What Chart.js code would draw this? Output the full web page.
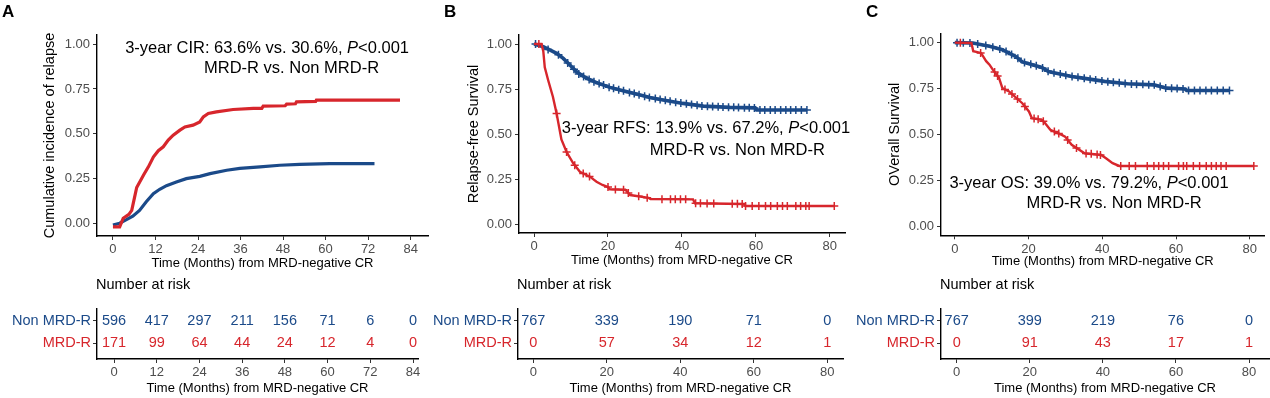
<!DOCTYPE html>
<html><head><meta charset="utf-8">
<script src="https://cdn.jsdelivr.net/npm/chart.js@4.4.1/dist/chart.umd.min.js"></script>
<style>
html,body{margin:0;padding:0;background:#fff;width:1270px;height:398px;overflow:hidden;}
canvas{position:absolute;left:0;top:0;}
</style></head><body>
<canvas id="mainA" width="1270" height="398"></canvas>
<canvas id="mainB" width="1270" height="398"></canvas>
<canvas id="mainC" width="1270" height="398"></canvas>
<canvas id="riskA" width="1270" height="398"></canvas>
<canvas id="riskB" width="1270" height="398"></canvas>
<canvas id="riskC" width="1270" height="398"></canvas>
<script>
// ================= DATA =================
const groupLabels = ['Non MRD-R', 'MRD-R'];
const yTickVals = [0, 0.25, 0.5, 0.75, 1];
const yTickLabels = ['0.00', '0.25', '0.50', '0.75', '1.00'];
const xTicksA = [0, 12, 24, 36, 48, 60, 72, 84];
const xTicksBC = [0, 20, 40, 60, 80];
const xTitle = 'Time (Months) from MRD-negative CR';
const yTitleA = 'Cumulative incidence of relapse';
const yTitleB = 'Relapse-free Survival';
const yTitleC = 'OVerall Survival';
const riskTitle = 'Number at risk';

// Panel A: cumulative incidence of relapse
const aBlueT = [0, 1.9, 3.8, 5.6, 7.5, 9.4, 11.4, 13.2, 15.1, 17.9, 20.7, 24.5, 27.4, 32.1, 35.8, 41.5, 47.1, 52.7, 61.2, 73.8];
const aBlueV = [-0.01, 0.0, 0.02, 0.04, 0.072, 0.12, 0.165, 0.19, 0.21, 0.23, 0.249, 0.262, 0.277, 0.296, 0.306, 0.315, 0.324, 0.329, 0.333, 0.333];
const aRedT = [0, 1.9, 2.9, 4.5, 5.3, 6.7, 8.6, 10.0, 11.4, 12.8, 14.2, 15.6, 17.0, 18.9, 20.3, 22.6, 24.5, 25.5, 26.9, 29.2, 33.9, 39.6, 42.0, 42.4, 48.6, 49.0, 51.5, 51.8, 57.2, 57.4, 81.0];
const aRedV = [-0.02, -0.02, 0.028, 0.05, 0.072, 0.20, 0.268, 0.315, 0.37, 0.405, 0.427, 0.464, 0.492, 0.52, 0.538, 0.548, 0.566, 0.594, 0.613, 0.622, 0.635, 0.641, 0.641, 0.654, 0.656, 0.665, 0.667, 0.678, 0.680, 0.687, 0.687];
const aRiskTimes = [0, 12, 24, 36, 48, 60, 72, 84];
const aRiskNon = [596, 417, 297, 211, 156, 71, 6, 0];
const aRiskMrd = [171, 99, 64, 44, 24, 12, 4, 0];
const aNote1 = ['3-year CIR: 63.6% vs. 30.6%, ', 'P', '<0.001'];
const aNote2 = ['MRD-R vs. Non MRD-R'];

// Panel B: relapse-free survival
const bBlueT = [0, 2.5, 6.1, 7.9, 9.7, 11.5, 14.2, 16.9, 20.5, 24.1, 27.7, 31.3, 34.9, 40.3, 45.8, 53.0, 59.8, 60.2, 73.8];
const bBlueV = [1.0, 0.985, 0.948, 0.92, 0.883, 0.846, 0.81, 0.785, 0.759, 0.74, 0.722, 0.703, 0.689, 0.67, 0.655, 0.648, 0.645, 0.633, 0.633];
const bBlueCensT = [0.4, 3.8, 6.6, 9.1, 10.8, 12.1, 13.4, 14.9, 16.2, 17.6, 18.8, 20.3, 21.5, 22.9, 24.2, 25.8, 27.1, 28.4, 29.9, 31.2, 32.8, 34.1, 35.5, 36.8, 38.3, 39.7, 41.2, 42.6, 44.1, 45.4, 46.9, 48.3, 49.8, 51.1, 52.6, 54.0, 55.3, 56.9, 58.2, 59.6, 61.1, 62.4, 63.9, 65.2, 66.7, 68.1, 69.4, 70.8, 72.3, 73.8];
const bBlueCensV = [1.0, 0.97, 0.94, 0.895, 0.86, 0.834, 0.82, 0.803, 0.79, 0.78, 0.772, 0.76, 0.754, 0.746, 0.74, 0.731, 0.725, 0.718, 0.71, 0.703, 0.697, 0.692, 0.687, 0.682, 0.677, 0.672, 0.668, 0.664, 0.66, 0.656, 0.654, 0.653, 0.651, 0.65, 0.648, 0.648, 0.647, 0.646, 0.646, 0.645, 0.633, 0.633, 0.633, 0.633, 0.633, 0.633, 0.633, 0.633, 0.633, 0.633];
const bRedT = [0, 2.0, 2.5, 2.9, 3.8, 5.1, 6.1, 7.4, 8.8, 10.6, 12.4, 15.1, 16.9, 18.5, 20.0, 20.5, 24.7, 26.0, 31.0, 31.5, 43.0, 43.5, 56.8, 57.2, 81.2];
const bRedV = [1.0, 1.0, 0.96, 0.87, 0.8, 0.707, 0.614, 0.47, 0.4, 0.337, 0.29, 0.263, 0.235, 0.217, 0.205, 0.193, 0.19, 0.161, 0.145, 0.139, 0.137, 0.115, 0.111, 0.10, 0.10];
const bRedCensT = [1.3, 6.1, 8.8, 11.0, 13.3, 15.0, 20.0, 22.0, 24.2, 25.5, 28.3, 30.6, 34.6, 36.9, 38.2, 39.6, 41.0, 43.7, 45.0, 46.8, 48.6, 53.6, 55.0, 56.3, 57.2, 59.0, 60.8, 62.6, 64.0, 65.8, 67.2, 68.5, 70.8, 72.1, 73.5, 74.4, 81.2];
const bRedCensV = [1.0, 0.614, 0.40, 0.327, 0.28, 0.264, 0.205, 0.191, 0.19, 0.172, 0.154, 0.146, 0.138, 0.138, 0.138, 0.138, 0.137, 0.115, 0.115, 0.114, 0.114, 0.112, 0.112, 0.111, 0.10, 0.10, 0.10, 0.10, 0.10, 0.10, 0.10, 0.10, 0.10, 0.10, 0.10, 0.10, 0.10];
const bRiskTimes = [0, 20, 40, 60, 80];
const bRiskNon = [767, 339, 190, 71, 0];
const bRiskMrd = [0, 57, 34, 12, 1];
const bNote1 = ['3-year RFS: 13.9% vs. 67.2%, ', 'P', '<0.001'];
const bNote2 = ['MRD-R vs. Non MRD-R'];

// Panel C: overall survival
const cBlueT = [0, 4.9, 9.4, 12.9, 16.5, 18.3, 20.1, 23.6, 25.4, 27.2, 31.7, 34.3, 40.6, 46.8, 54.0, 57.5, 62.5, 62.9, 74.5];
const cBlueV = [1.0, 0.998, 0.98, 0.962, 0.925, 0.895, 0.885, 0.865, 0.843, 0.835, 0.816, 0.808, 0.789, 0.776, 0.770, 0.752, 0.748, 0.739, 0.739];
const cBlueCensT = [0.6, 2.3, 4.1, 6.2, 8.4, 10.3, 12.2, 13.9, 15.4, 17.1, 18.9, 20.6, 22.1, 23.8, 25.3, 26.9, 28.6, 30.1, 31.8, 33.4, 35.1, 36.7, 38.2, 39.9, 41.5, 43.0, 44.6, 46.2, 47.9, 49.3, 51.0, 52.6, 54.1, 55.7, 57.2, 58.8, 60.3, 61.9, 63.4, 65.0, 66.5, 68.1, 69.6, 71.2, 72.8, 74.5];
const cBlueCensV = [1.0, 0.999, 0.998, 0.993, 0.984, 0.975, 0.966, 0.952, 0.936, 0.915, 0.892, 0.882, 0.874, 0.862, 0.844, 0.836, 0.829, 0.823, 0.816, 0.811, 0.806, 0.801, 0.796, 0.791, 0.787, 0.784, 0.781, 0.777, 0.775, 0.774, 0.773, 0.771, 0.77, 0.761, 0.753, 0.751, 0.75, 0.748, 0.739, 0.739, 0.739, 0.739, 0.739, 0.739, 0.739, 0.739];
const cRedT = [0, 4.5, 5.0, 7.1, 8.5, 9.4, 10.3, 12.0, 12.9, 14.7, 18.3, 20.1, 20.9, 23.6, 24.5, 25.9, 29.0, 29.9, 31.7, 35.2, 39.7, 41.0, 42.8, 44.6, 81.1];
const cRedV = [1.0, 0.998, 0.953, 0.944, 0.899, 0.88, 0.853, 0.807, 0.752, 0.734, 0.67, 0.625, 0.588, 0.579, 0.561, 0.525, 0.497, 0.488, 0.443, 0.397, 0.388, 0.37, 0.343, 0.328, 0.328];
const cRedCensT = [1.5, 7.0, 10.8, 11.6, 13.6, 15.5, 17.0, 19.0, 21.5, 22.6, 24.0, 27.0, 28.2, 30.6, 33.0, 35.6, 37.0, 38.6, 39.5, 45.0, 47.3, 49.0, 52.2, 54.0, 55.3, 56.6, 58.0, 60.7, 62.0, 62.9, 64.7, 66.4, 68.2, 69.6, 70.9, 72.2, 73.6, 81.1];
const cRedCensV = [1.0, 0.944, 0.84, 0.818, 0.745, 0.72, 0.693, 0.652, 0.586, 0.582, 0.571, 0.516, 0.505, 0.47, 0.426, 0.396, 0.394, 0.39, 0.388, 0.328, 0.328, 0.328, 0.328, 0.328, 0.328, 0.328, 0.328, 0.328, 0.328, 0.328, 0.328, 0.328, 0.328, 0.328, 0.328, 0.328, 0.328, 0.328];
const cRiskTimes = [0, 20, 40, 60, 80];
const cRiskNon = [767, 399, 219, 76, 0];
const cRiskMrd = [0, 91, 43, 17, 1];
const cNote1 = ['3-year OS: 39.0% vs. 79.2%, ', 'P', '<0.001'];
const cNote2 = ['MRD-R vs. Non MRD-R'];

// ================= STYLE / LAYOUT =================
const FONT = "'Liberation Sans', Arial, Helvetica, sans-serif";
const BLUE = '#1B4A89';
const RED = '#D7262C';
const W = 1270, H = 398;
const TICK_GREY = '#4D4D4D';

function zip(t, v) { return t.map((x, i) => ({ x: x, y: v[i] })); }

function fixedTicks(vals) {
  return function (scale) { scale.ticks = vals.map(v => ({ value: v })); };
}

function drawNote(ctx, parts, cx, cy, size) {
  const fonts = parts.map((p, i) => (i === 1 && parts.length === 3 ? 'italic ' : '') + size + 'px ' + FONT);
  let widths = parts.map((p, i) => { ctx.font = fonts[i]; return ctx.measureText(p).width; });
  let total = widths.reduce((a, b) => a + b, 0);
  let x = cx - total / 2;
  ctx.textAlign = 'left';
  ctx.textBaseline = 'middle';
  ctx.fillStyle = '#000';
  parts.forEach((p, i) => { ctx.font = fonts[i]; ctx.fillText(p, x, cy); x += widths[i]; });
}

function mainChart(id, p) {
  const yLH = 14.5 * 1.2, xLH = 13 * 1.2;
  const padLeft = p.yTitleX - yLH / 2;
  const yW = p.area.l - padLeft;
  const xH = p.xTitleY + xLH / 2 - p.area.b;
  const datasets = [];
  p.curves.forEach(c => {
    datasets.push({
      data: zip(c.t, c.v), borderColor: c.color, backgroundColor: c.color,
      borderWidth: c.lw, pointRadius: 0, pointHoverRadius: 0, fill: false, tension: 0,
      borderJoinStyle: 'miter', borderCapStyle: 'butt'
    });
    if (c.ct) {
      datasets.push({
        data: zip(c.ct, c.cv), showLine: false, pointStyle: 'cross', pointRadius: 4,
        pointHoverRadius: 0, pointBorderColor: c.color, pointBorderWidth: 1.5,
        borderColor: c.color, backgroundColor: c.color
      });
    }
  });
  return new Chart(document.getElementById(id), {
    type: 'line',
    data: { datasets: datasets },
    options: {
      responsive: false, animation: false, events: [],
      layout: { padding: { left: padLeft, top: p.area.t, right: W - p.area.r, bottom: H - p.area.b - xH } },
      plugins: { legend: { display: false }, tooltip: { enabled: false } },
      scales: {
        x: {
          type: 'linear', min: p.xMin, max: p.xMax,
          afterBuildTicks: fixedTicks(p.xTicks),
          afterFit: s => { s.height = xH; },
          grid: { drawOnChartArea: false, drawTicks: true, tickLength: 4, color: '#333', lineWidth: 1 },
          border: { display: true, color: '#000', width: 1.4 },
          ticks: { color: TICK_GREY, font: { family: FONT, size: 13 }, padding: 2, maxRotation: 0, autoSkip: false },
          title: { display: true, text: xTitle, color: '#000', font: { family: FONT, size: 13 }, padding: { top: 0, bottom: 0 } }
        },
        y: {
          type: 'linear', min: p.yMin, max: p.yMax,
          afterBuildTicks: fixedTicks(yTickVals),
          afterFit: s => { s.width = yW; },
          grid: { drawOnChartArea: false, drawTicks: true, tickLength: 4, color: '#333', lineWidth: 1 },
          border: { display: true, color: '#000', width: 1.4 },
          ticks: {
            color: TICK_GREY, font: { family: FONT, size: 13 }, padding: 3, autoSkip: false,
            callback: v => { const i = yTickVals.indexOf(v); return i >= 0 ? yTickLabels[i] : ''; }
          },
          title: { display: true, text: p.yTitle, color: '#000', font: { family: FONT, size: 14.5 }, padding: { top: 0, bottom: 0 } }
        }
      }
    },
    plugins: [{
      id: 'notes_' + id,
      afterDraw(chart) {
        const ctx = chart.ctx, xs = chart.scales.x, ys = chart.scales.y;
        ctx.save();
        p.notes.forEach(n => drawNote(ctx, n.parts, xs.getPixelForValue(n.x), ys.getPixelForValue(n.y), 16.5));
        ctx.font = 'bold 17px ' + FONT;
        ctx.fillStyle = '#000';
        ctx.textAlign = 'left';
        ctx.textBaseline = 'middle';
        ctx.fillText(p.letter, p.letterX, 12.5);
        ctx.restore();
      }
    }]
  });
}

function riskChart(id, p) {
  const xLH = 13 * 1.2;
  const yW = 95;
  const padLeft = p.area.l - yW;
  const xH = p.xTitleY + xLH / 2 - p.area.b;
  const rowVal = [2, 1];
  const rowColor = [BLUE, RED];
  const datasets = [p.non, p.mrd].map((counts, k) => ({
    data: p.times.map(t => ({ x: t, y: rowVal[k] })),
    counts: counts, countColor: rowColor[k],
    showLine: false, pointRadius: 0, pointHoverRadius: 0
  }));
  return new Chart(document.getElementById(id), {
    type: 'line',
    data: { datasets: datasets },
    options: {
      responsive: false, animation: false, events: [],
      layout: { padding: { left: padLeft, top: p.area.t, right: W - p.area.r, bottom: H - p.area.b - xH } },
      plugins: { legend: { display: false }, tooltip: { enabled: false } },
      scales: {
        x: {
          type: 'linear', min: p.xMin, max: p.xMax,
          afterBuildTicks: fixedTicks(p.xTicks),
          afterFit: s => { s.height = xH; },
          grid: { drawOnChartArea: false, drawTicks: true, tickLength: 4, color: '#333', lineWidth: 1 },
          border: { display: true, color: '#000', width: 1.4 },
          ticks: { color: TICK_GREY, font: { family: FONT, size: 13 }, padding: 2, maxRotation: 0, autoSkip: false },
          title: { display: true, text: xTitle, color: '#000', font: { family: FONT, size: 13 }, padding: { top: 0, bottom: 0 } }
        },
        y: {
          type: 'linear', min: 0.273, max: 2.545,
          afterBuildTicks: fixedTicks(rowVal),
          afterFit: s => { s.width = yW; },
          grid: { drawOnChartArea: false, drawTicks: true, tickLength: 4, color: '#333', lineWidth: 1 },
          border: { display: true, color: '#000', width: 1.4 },
          ticks: {
            font: { family: FONT, size: 14.5 }, padding: 2, autoSkip: false,
            color: c => (c.tick && c.tick.value === 2 ? BLUE : RED),
            callback: v => (v === 2 ? groupLabels[0] : v === 1 ? groupLabels[1] : '')
          }
        }
      }
    },
    plugins: [{
      id: 'counts_' + id,
      afterDatasetsDraw(chart) {
        const ctx = chart.ctx, xs = chart.scales.x, ys = chart.scales.y;
        ctx.save();
        ctx.font = '14.5px ' + FONT;
        ctx.textAlign = 'center';
        ctx.textBaseline = 'middle';
        chart.data.datasets.forEach(ds => {
          ctx.fillStyle = ds.countColor;
          ds.data.forEach((d, i) => ctx.fillText(String(ds.counts[i]), xs.getPixelForValue(d.x), ys.getPixelForValue(d.y)));
        });
        ctx.fillStyle = '#000';
        ctx.textAlign = 'left';
        ctx.font = '14.5px ' + FONT;
        ctx.fillText(riskTitle, chart.chartArea.left - 1, chart.chartArea.top - 24);
        ctx.restore();
      }
    }]
  });
}

// ================= CHARTS =================
mainChart('mainA', {
  area: { l: 97, t: 35, r: 428, b: 236 }, xMin: -4.5, xMax: 88.9, yMin: -0.071, yMax: 1.051,
  xTicks: xTicksA, yTitle: yTitleA, yTitleX: 50, xTitleY: 263,
  letter: 'A', letterX: 2,
  curves: [
    { t: aRedT, v: aRedV, color: RED, lw: 3.2 },
    { t: aBlueT, v: aBlueV, color: BLUE, lw: 3.2 }
  ],
  notes: [{ parts: aNote1, x: 43.5, y: 0.978 }, { parts: aNote2, x: 50.4, y: 0.866 }]
});
mainChart('mainB', {
  area: { l: 519, t: 35, r: 845, b: 233 }, xMin: -4.07, xMax: 84.1, yMin: -0.05, yMax: 1.05,
  xTicks: xTicksBC, yTitle: yTitleB, yTitleX: 474, xTitleY: 260,
  letter: 'B', letterX: 444,
  curves: [
    { t: bRedT, v: bRedV, ct: bRedCensT, cv: bRedCensV, color: RED, lw: 2.4 },
    { t: bBlueT, v: bBlueV, ct: bBlueCensT, cv: bBlueCensV, color: BLUE, lw: 3.6 }
  ],
  notes: [{ parts: bNote1, x: 46.5, y: 0.533 }, { parts: bNote2, x: 55.0, y: 0.411 }]
});
mainChart('mainC', {
  area: { l: 941, t: 33.5, r: 1269, b: 235.3 }, xMin: -3.75, xMax: 84.0, yMin: -0.05, yMax: 1.05,
  xTicks: xTicksBC, yTitle: yTitleC, yTitleX: 895, xTitleY: 261,
  letter: 'C', letterX: 866,
  curves: [
    { t: cRedT, v: cRedV, ct: cRedCensT, cv: cRedCensV, color: RED, lw: 2.4 },
    { t: cBlueT, v: cBlueV, ct: cBlueCensT, cv: cBlueCensV, color: BLUE, lw: 3.6 }
  ],
  notes: [{ parts: cNote1, x: 36.4, y: 0.235 }, { parts: cNote2, x: 43.2, y: 0.126 }]
});
riskChart('riskA', {
  area: { l: 97, t: 309, r: 418, b: 359 }, xMin: -4.78, xMax: 85.4, xTicks: xTicksA, xTitleY: 388,
  times: aRiskTimes, non: aRiskNon, mrd: aRiskMrd
});
riskChart('riskB', {
  area: { l: 518, t: 309, r: 843, b: 359 }, xMin: -4.16, xMax: 84.3, xTicks: xTicksBC, xTitleY: 388,
  times: bRiskTimes, non: bRiskNon, mrd: bRiskMrd
});
riskChart('riskC', {
  area: { l: 941, t: 309, r: 1269, b: 359 }, xMin: -4.3, xMax: 85.47, xTicks: xTicksBC, xTitleY: 388,
  times: cRiskTimes, non: cRiskNon, mrd: cRiskMrd
});
</script>
</body></html>
